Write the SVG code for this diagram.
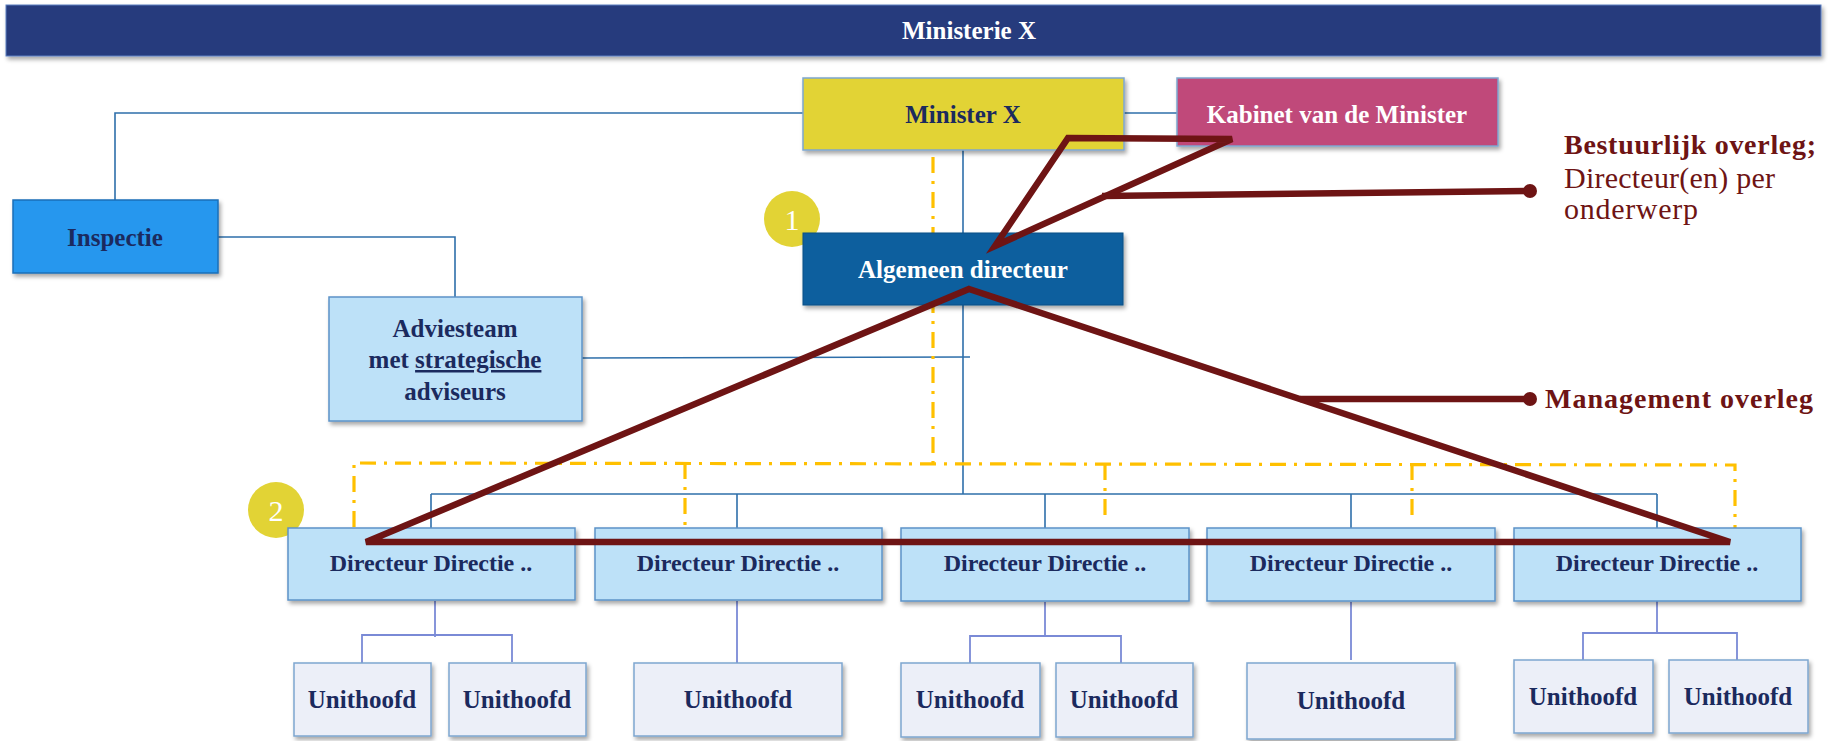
<svg xmlns="http://www.w3.org/2000/svg" width="1828" height="741" viewBox="0 0 1828 741">
<style>
text{font-family:"Liberation Serif","Times New Roman",serif;font-weight:bold;text-anchor:middle}
.navy{fill:#1B2A5E}
.white{fill:#FFFFFF}
.box{stroke:#7EA6CF;stroke-width:1.5}
.dir{fill:#BDE1F8;stroke:#5C93C8;stroke-width:1.5}
.unit{fill:#ECEFF8;stroke:#7EA6CF;stroke-width:1.5}
.conn{fill:none;stroke:#2E6FAA;stroke-width:1.6}
.sub{fill:none;stroke:#7A8AD6;stroke-width:1.8}
.dash{fill:none;stroke:#FFC000;stroke-width:3.2;stroke-dasharray:16 8 3 8}
.red{fill:none;stroke:#6E1414;stroke-width:6.5;stroke-linejoin:miter}
.redlbl{fill:#6E1414;text-anchor:start}
text.reg{font-weight:normal}
.num{fill:#FFFFFF;font-weight:normal;font-size:30px}
</style>
<defs>
<filter id="sh" x="-10%" y="-10%" width="125%" height="130%">
<feDropShadow dx="2" dy="3" stdDeviation="2" flood-color="#000000" flood-opacity="0.35"/>
</filter>
</defs>

<g id="header">
<rect x="6" y="5" width="1815" height="51" fill="#253B7D" stroke="#5B7FC0" stroke-width="1" filter="url(#sh)"/>
<text x="969" y="39" class="white" font-size="25">Ministerie X</text>
</g>

<g id="connectors">
<polyline class="conn" points="803,113 115,113 115,200"/>
<line class="conn" x1="1124" y1="113" x2="1177" y2="113"/>
<polyline class="conn" points="218,237 455,237 455,297"/>
<line class="conn" x1="582" y1="358" x2="970" y2="357"/>
<line class="conn" x1="963" y1="150" x2="963" y2="233"/>
<line class="conn" x1="963" y1="305" x2="963" y2="494"/>
<line class="conn" x1="431" y1="494" x2="1657" y2="494"/>
<line class="conn" x1="431" y1="494" x2="431" y2="528"/>
<line class="conn" x1="737" y1="494" x2="737" y2="528"/>
<line class="conn" x1="1045" y1="494" x2="1045" y2="528"/>
<line class="conn" x1="1351" y1="494" x2="1351" y2="528"/>
<line class="conn" x1="1657" y1="494" x2="1657" y2="528"/>

<polyline class="sub" points="435,601 435,637"/>
<polyline class="sub" points="362,663 362,635 512,635 512,662"/>
<line class="sub" x1="737" y1="601" x2="737" y2="663"/>
<polyline class="sub" points="1045,602 1045,636"/>
<polyline class="sub" points="970,663 970,636 1121,636 1121,663"/>
<line class="sub" x1="1351" y1="602" x2="1351" y2="660"/>
<polyline class="sub" points="1657,597 1657,634"/>
<polyline class="sub" points="1583,660 1583,633 1737,633 1737,660"/>

<polyline class="dash" points="933,157 933,463"/>
<polyline class="dash" points="354,527 354,463 1735,465 1735,530"/>
<line class="dash" x1="685" y1="463" x2="685" y2="527"/>
<line class="dash" x1="1105" y1="464" x2="1105" y2="522"/>
<line class="dash" x1="1412" y1="464" x2="1412" y2="522"/>
</g>

<g id="badge-1">
<circle cx="792" cy="219" r="28" fill="#E2D335"/>
<text x="792" y="230" class="num">1</text>
</g>
<g id="badge-2">
<circle cx="276" cy="510" r="28" fill="#E2D335"/>
<text x="276" y="521" class="num">2</text>
</g>

<g id="minister">
<rect x="803" y="78" width="321" height="72" fill="#E2D335" class="box" filter="url(#sh)"/>
<text x="963" y="123" class="navy" font-size="25">Minister X</text>
</g>
<g id="kabinet">
<rect x="1177" y="78" width="321" height="68" fill="#C04A7A" class="box" filter="url(#sh)"/>
<text x="1337" y="123" class="white" font-size="25">Kabinet van de Minister</text>
</g>
<g id="inspectie">
<rect x="13" y="200" width="205" height="73" fill="#2597EE" stroke="#1D6FB8" stroke-width="1.5" filter="url(#sh)"/>
<text x="115" y="246" class="navy" font-size="25">Inspectie</text>
</g>
<g id="adviesteam">
<rect x="329" y="297" width="253" height="124" fill="#BDE1F8" stroke="#5C93C8" stroke-width="1.5" filter="url(#sh)"/>
<text x="455" y="337" class="navy" font-size="25">Adviesteam</text>
<text x="455" y="368" class="navy" font-size="25">met <tspan text-decoration="underline">strategische</tspan></text>
<text x="455" y="400" class="navy" font-size="25">adviseurs</text>
</g>
<g id="algemeen-directeur">
<rect x="803" y="233" width="320" height="72" fill="#0C5F9E" stroke="#0A4F85" stroke-width="1" filter="url(#sh)"/>
<text x="963" y="278" class="white" font-size="25">Algemeen directeur</text>
</g>

<g id="directeur-1">
<rect x="288" y="528" width="287" height="72" class="dir" filter="url(#sh)"/>
<text x="431" y="571" class="navy" font-size="24">Directeur Directie ..</text>
</g>
<g id="directeur-2">
<rect x="595" y="528" width="287" height="72" class="dir" filter="url(#sh)"/>
<text x="738" y="571" class="navy" font-size="24">Directeur Directie ..</text>
</g>
<g id="directeur-3">
<rect x="901" y="528" width="288" height="73" class="dir" filter="url(#sh)"/>
<text x="1045" y="571" class="navy" font-size="24">Directeur Directie ..</text>
</g>
<g id="directeur-4">
<rect x="1207" y="528" width="288" height="73" class="dir" filter="url(#sh)"/>
<text x="1351" y="571" class="navy" font-size="24">Directeur Directie ..</text>
</g>
<g id="directeur-5">
<rect x="1514" y="528" width="287" height="73" class="dir" filter="url(#sh)"/>
<text x="1657" y="571" class="navy" font-size="24">Directeur Directie ..</text>
</g>

<g id="unithoofd-1"><rect x="294" y="663" width="137" height="73" class="unit" filter="url(#sh)"/><text x="362" y="708" class="navy" font-size="25">Unithoofd</text></g>
<g id="unithoofd-2"><rect x="449" y="663" width="137" height="73" class="unit" filter="url(#sh)"/><text x="517" y="708" class="navy" font-size="25">Unithoofd</text></g>
<g id="unithoofd-3"><rect x="634" y="663" width="208" height="73" class="unit" filter="url(#sh)"/><text x="738" y="708" class="navy" font-size="25">Unithoofd</text></g>
<g id="unithoofd-4"><rect x="901" y="663" width="139" height="74" class="unit" filter="url(#sh)"/><text x="970" y="708" class="navy" font-size="25">Unithoofd</text></g>
<g id="unithoofd-5"><rect x="1056" y="663" width="137" height="74" class="unit" filter="url(#sh)"/><text x="1124" y="708" class="navy" font-size="25">Unithoofd</text></g>
<g id="unithoofd-6"><rect x="1247" y="663" width="208" height="76" class="unit" filter="url(#sh)"/><text x="1351" y="709" class="navy" font-size="25">Unithoofd</text></g>
<g id="unithoofd-7"><rect x="1514" y="660" width="139" height="73" class="unit" filter="url(#sh)"/><text x="1583" y="705" class="navy" font-size="25">Unithoofd</text></g>
<g id="unithoofd-8"><rect x="1669" y="660" width="139" height="73" class="unit" filter="url(#sh)"/><text x="1738" y="705" class="navy" font-size="25">Unithoofd</text></g>

<g id="overleg-lines">
<polygon class="red" points="1068,138 1232,139 995,246"/>
<line class="red" x1="1102" y1="196" x2="1530" y2="191" stroke-width="5.5"/>
<circle cx="1530" cy="191" r="7" fill="#6E1414"/>
<polygon class="red" points="969,289 1730,542 366,542"/>
<line class="red" x1="1300" y1="399" x2="1530" y2="399" stroke-width="5.5"/>
<circle cx="1530" cy="399" r="7" fill="#6E1414"/>
</g>

<g id="labels">
<text x="1564" y="154" class="redlbl" font-size="28" textLength="252" lengthAdjust="spacing">Bestuurlijk overleg;</text>
<text x="1564" y="188" class="redlbl reg" font-size="30" textLength="211" lengthAdjust="spacing">Directeur(en) per</text>
<text x="1564" y="219" class="redlbl reg" font-size="30" textLength="134" lengthAdjust="spacing">onderwerp</text>
<text x="1545" y="408" class="redlbl" font-size="28" textLength="268" lengthAdjust="spacing">Management overleg</text>
</g>
</svg>
